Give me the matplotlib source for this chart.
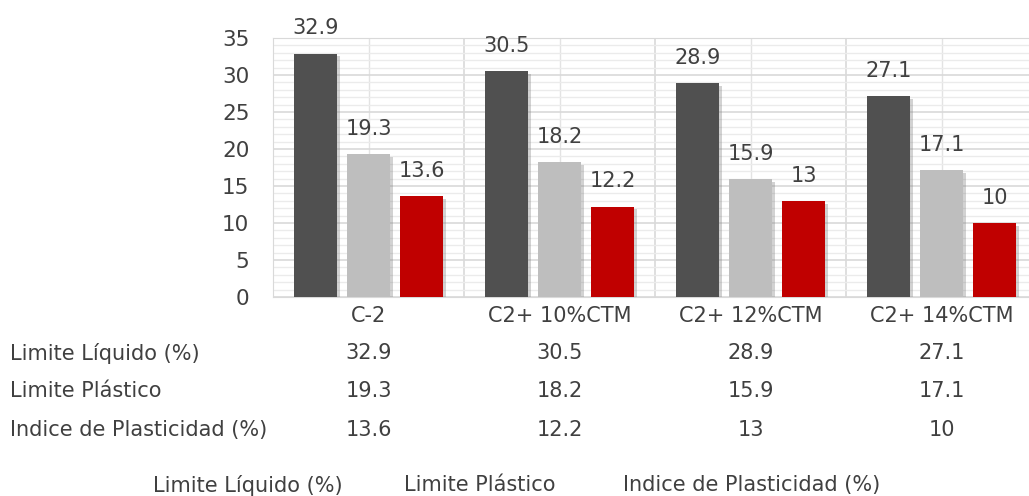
import matplotlib.pyplot as plt
import matplotlib.patheffects as pe
import matplotlib.transforms as mtransforms
import numpy as np

categorias = ['C-2', 'C2+ 10%CTM', 'C2+ 12%CTM', 'C2+ 14%CTM']
series = ['Limite Líquido (%)', 'Limite Plástico', 'Indice de Plasticidad (%)']
limite_liquido = [32.9, 30.5, 28.9, 27.1]
limite_plastico = [19.3, 18.2, 15.9, 17.1]
indice_plasticidad = [13.6, 12.2, 13, 10]
etiquetas = [['32.9', '30.5', '28.9', '27.1'],
             ['19.3', '18.2', '15.9', '17.1'],
             ['13.6', '12.2', '13', '10']]
colores = ['#505050', '#BEBEBE', '#C00000']

texto = '#404040'
plt.rcParams['font.family'] = ['DejaVu Sans']

fig = plt.figure(figsize=(10.29, 4.96), dpi=100)
ax = fig.add_axes([273 / 1029, 1 - 297 / 496, 764 / 1029, 259 / 496])

x = np.arange(len(categorias))
ancho = 0.226
desp = 0.279
sombra = [pe.SimplePatchShadow(offset=(2, -2), shadow_rgbFace='#808080', alpha=0.35), pe.Normal()]

for i, valores in enumerate([limite_liquido, limite_plastico, indice_plasticidad]):
    barras = ax.bar(x + (i - 1) * desp, valores, ancho, color=colores[i], zorder=3)
    for b in barras:
        b.set_path_effects(sombra)
    for xi, v, lab in zip(x + (i - 1) * desp, valores, etiquetas[i]):
        ax.annotate(lab, (xi, v), xytext=(0, 11), textcoords='offset points',
                    ha='center', va='bottom', fontsize=15, color=texto)

ax.set_xlim(-0.5, len(categorias) - 0.5)
ax.set_ylim(0, 35)
ax.set_yticks(np.arange(0, 36, 5))
ax.set_yticks(np.arange(0, 36, 1), minor=True)
ax.tick_params(axis='y', which='both', length=0, labelsize=15.5, labelcolor=texto, pad=17)
ax.set_xticks(np.arange(-0.5, len(categorias), 1))
ax.set_xticks(x, minor=True)
ax.tick_params(axis='x', which='both', length=0, labelbottom=False)
ax.grid(True, which='major', color='#D9D9D9', linewidth=1.2, zorder=0)
ax.grid(True, which='minor', axis='y', color='#EBEBEB', linewidth=1.0, zorder=0)
ax.grid(True, which='minor', axis='x', color='#E3E3E3', linewidth=1.0, zorder=0)
for s in ax.spines.values():
    s.set_color('#D9D9D9')

# tabla de datos debajo del eje
trans = mtransforms.blended_transform_factory(ax.transData, fig.transFigure)
for xi, cat in zip(x, categorias):
    fig.text(xi, 1 - 316 / 496, cat, transform=trans, ha='center', va='center',
             fontsize=15, color=texto)

filas_y = [353, 391, 430]
for fila, nombre, yy in zip(etiquetas, series, filas_y):
    fig.text(10 / 1029, 1 - yy / 496, nombre, ha='left', va='center', fontsize=15, color=texto)
    for xi, lab in zip(x, fila):
        fig.text(xi, 1 - yy / 496, lab, transform=trans, ha='center', va='center',
                 fontsize=15, color=texto)

# leyenda
for nombre, xx in zip(series, [248, 480, 752]):
    fig.text(xx / 1029, 1 - 485 / 496, nombre, ha='center', va='center', fontsize=15, color=texto)

fig.savefig('out.png', dpi=100)
